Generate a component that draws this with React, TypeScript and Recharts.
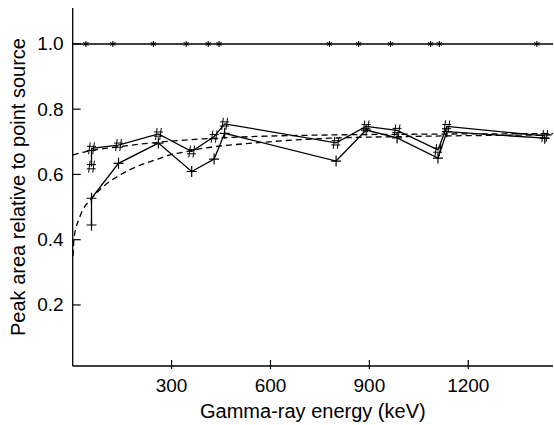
import React from 'react';
import { LineChart, Line, XAxis, YAxis, ReferenceLine } from 'recharts';

// energies (keV) of the measured peaks, shared by both extended-source series
const energies = [57, 57, 139, 260, 361, 429, 461, 799, 890, 984, 1108, 1135, 1432];
const hashValues = [0.624, 0.68, 0.69, 0.724, 0.67, 0.716, 0.755, 0.697, 0.747, 0.735, 0.675, 0.747, 0.718];
const plusValues = [0.445, 0.527, 0.634, 0.696, 0.609, 0.647, 0.726, 0.641, 0.736, 0.712, 0.65, 0.731, 0.711];

// point source reference peaks
const pointEnergies = [40, 121.8, 244.7, 344.3, 411.1, 444, 778.9, 867.4, 964.1, 1085.8, 1112.1, 1408];
const pointValues = [1, 1, 1, 1, 1, 1, 1, 1, 1, 1, 1, 1];

// dashed fitted curves
const upperFitEnergies = [0, 40, 125, 244, 396, 545, 780, 1000, 1457];
const upperFitValues = [0.66, 0.67, 0.683, 0.697, 0.709, 0.716, 0.721, 0.723, 0.725];
const lowerFitEnergies = [1, 4, 22, 58, 92, 143, 194, 244, 295, 346, 395, 447, 547, 649, 780, 1000, 1457];
const lowerFitValues = [0.35, 0.405, 0.471, 0.527, 0.562, 0.598, 0.624, 0.642, 0.66, 0.67, 0.68, 0.687, 0.696, 0.704, 0.711, 0.716, 0.721];

const xTicks = [300, 600, 900, 1200];
const yTicks = [0.2, 0.4, 0.6, 0.8, 1.0];

const pair = (xs: number[], ys: number[]) => xs.map((energy, i) => ({ energy, value: ys[i] }));

const hashData = pair(energies, hashValues);
const plusData = pair(energies, plusValues);
const pointData = pair(pointEnergies, pointValues);
const upperFit = pair(upperFitEnergies, upperFitValues);
const lowerFit = pair(lowerFitEnergies, lowerFitValues);

const FONT = '"Liberation Sans", Arial, Helvetica, sans-serif';

const HashDot = ({ cx, cy }: any) => (
  <path
    d={`M${cx - 1.3},${cy - 6} L${cx - 2.9},${cy + 6} M${cx + 2.9},${cy - 6} L${cx + 1.3},${cy + 6} M${cx - 4.5},${cy - 2} L${cx + 4.5},${cy - 2} M${cx - 4.8},${cy + 2.2} L${cx + 4.2},${cy + 2.2}`}
    stroke="#000"
    strokeWidth={1}
    fill="none"
  />
);

const PlusDot = ({ cx, cy }: any) => (
  <path
    d={`M${cx - 5},${cy} L${cx + 5},${cy} M${cx},${cy - 5.5} L${cx},${cy + 5.5}`}
    stroke="#000"
    strokeWidth={1.2}
    fill="none"
  />
);

const StarDot = ({ cx, cy }: any) => (
  <path
    d={`M${cx},${cy - 3} L${cx},${cy + 3} M${cx - 2.6},${cy - 1.5} L${cx + 2.6},${cy + 1.5} M${cx - 2.6},${cy + 1.5} L${cx + 2.6},${cy - 1.5}`}
    stroke="#000"
    strokeWidth={1.1}
    fill="none"
  />
);

const XTick = ({ x, y, payload }: any) => (
  <g>
    <line x1={x} x2={x} y1={y - 6} y2={y + 3} stroke="#000" strokeWidth={1.2} />
    <text x={x} y={y + 26} textAnchor="middle" fontSize={19} fontFamily={FONT} fill="#000">
      {payload.value}
    </text>
  </g>
);

const YTick = ({ x, y, payload }: any) => (
  <g>
    <line x1={x} x2={x + 8} y1={y} y2={y} stroke="#000" strokeWidth={1.2} />
    <text x={x - 9} y={y + 6.5} textAnchor="end" fontSize={19} fontFamily={FONT} fill="#000">
      {Number(payload.value).toFixed(1)}
    </text>
  </g>
);

export default function App() {
  return (
    <div style={{ position: 'absolute', left: 0, top: 0, width: 554, height: 425, background: '#fff' }}>
      <LineChart width={554} height={425} margin={{ top: 8, right: 1, bottom: 0, left: 0 }}>
        <XAxis
          type="number"
          dataKey="energy"
          domain={[0, 1457]}
          ticks={xTicks}
          allowDataOverflow
          height={59}
          tickLine={false}
          tickSize={0}
          tickMargin={0}
          tick={<XTick />}
          axisLine={{ stroke: '#000', strokeWidth: 1.3 }}
          label={({ viewBox }: any) => (
            <text
              x={viewBox.x + viewBox.width / 2}
              y={418}
              textAnchor="middle"
              fontSize={20}
              fontFamily={FONT}
              fill="#000"
            >
              Gamma-ray energy (keV)
            </text>
          )}
        />
        <YAxis
          type="number"
          dataKey="value"
          domain={[0.013, 1.11]}
          ticks={yTicks}
          allowDataOverflow
          width={72.7}
          tickLine={false}
          tickSize={0}
          tickMargin={0}
          tick={<YTick />}
          axisLine={{ stroke: '#000', strokeWidth: 1.3 }}
          label={({ viewBox }: any) => {
            const cy = viewBox.y + viewBox.height / 2;
            return (
              <text
                x={25}
                y={cy}
                transform={`rotate(-90, 25, ${cy})`}
                textAnchor="middle"
                fontSize={20}
                fontFamily={FONT}
                fill="#000"
              >
                Peak area relative to point source
              </text>
            );
          }}
        />
        <ReferenceLine y={1} stroke="#000" strokeWidth={1.5} />
        <Line
          data={upperFit}
          dataKey="value"
          type="monotone"
          stroke="#000"
          strokeWidth={1.3}
          strokeDasharray="6 4"
          dot={false}
          isAnimationActive={false}
        />
        <Line
          data={lowerFit}
          dataKey="value"
          type="monotone"
          stroke="#000"
          strokeWidth={1.3}
          strokeDasharray="6 4"
          dot={false}
          isAnimationActive={false}
        />
        <Line
          data={hashData}
          dataKey="value"
          type="linear"
          stroke="#000"
          strokeWidth={1.3}
          dot={(p: any) => <HashDot key={`h${p.index}`} cx={p.cx} cy={p.cy} />}
          isAnimationActive={false}
        />
        <Line
          data={plusData}
          dataKey="value"
          type="linear"
          stroke="#000"
          strokeWidth={1.3}
          dot={(p: any) => <PlusDot key={`p${p.index}`} cx={p.cx} cy={p.cy} />}
          isAnimationActive={false}
        />
        <Line
          data={pointData}
          dataKey="value"
          type="linear"
          stroke="none"
          dot={(p: any) => <StarDot key={`s${p.index}`} cx={p.cx} cy={p.cy} />}
          isAnimationActive={false}
        />
      </LineChart>
    </div>
  );
}
